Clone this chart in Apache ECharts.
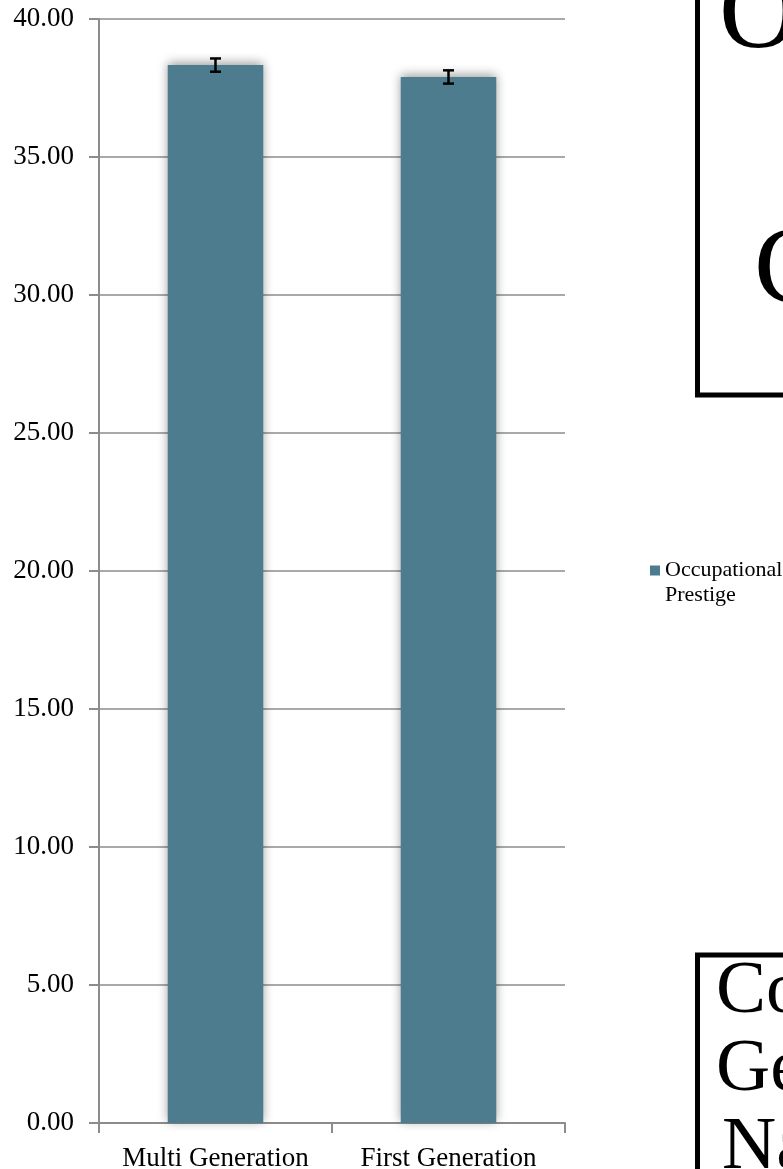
<!DOCTYPE html>
<html>
<head>
<meta charset="utf-8">
<script src="https://cdn.jsdelivr.net/npm/echarts@6/dist/echarts.min.js"></script>
<style>
  html, body { margin: 0; padding: 0; background: #fff; }
  #chart { width: 783px; height: 1169px; }
</style>
</head>
<body>
<div id="chart"></div>
<script>
var categories = ['Multi Generation', 'First Generation'];
var seriesName = 'Occupational Prestige';
var values = [38.33, 37.90];
var errors = [0.24, 0.24];
var yTicks = [0, 5, 10, 15, 20, 25, 30, 35, 40];

var serif = '"Liberation Serif", "DejaVu Serif", serif';
var chart = echarts.init(document.getElementById('chart'));

var errData = values.map(function (v, i) {
  return [i, v - errors[i], v + errors[i]];
});

chart.setOption({
  animation: false,
  grid: { left: 99, right: 218, top: 19, bottom: 46, outerBoundsMode: 'none', containLabel: false },
  legend: {
    data: [seriesName],
    left: 650,
    top: 533,
    padding: 0,
    icon: 'rect',
    itemWidth: 10,
    itemHeight: 10,
    // leading empty line keeps the square level with the first text line
    formatter: function () { return '\nOccupational\nPrestige'; },
    textStyle: {
      fontFamily: serif,
      fontSize: 22,
      color: '#000',
      lineHeight: 25
    }
  },
  xAxis: {
    type: 'category',
    data: categories,
    axisLine: { lineStyle: { color: '#8c8c8c', width: 2 } },
    axisTick: { show: true, interval: 0, length: 10, lineStyle: { color: '#8c8c8c', width: 2 } },
    axisLabel: { interval: 0, hideOverlap: false, fontFamily: serif, fontSize: 27, color: '#000', margin: 22 }
  },
  yAxis: {
    type: 'value',
    min: yTicks[0],
    max: yTicks[yTicks.length - 1],
    interval: 5,
    axisLine: { show: true, lineStyle: { color: '#8c8c8c', width: 2 } },
    axisTick: { show: true, length: 10, lineStyle: { color: '#8c8c8c', width: 2 } },
    splitLine: { lineStyle: { color: '#8c8c8c', width: 1.5 } },
    axisLabel: {
      fontFamily: serif, fontSize: 27, color: '#000', margin: 25,
      formatter: function (v) { return v.toFixed(2); }
    }
  },
  series: [
    {
      name: seriesName,
      type: 'bar',
      data: values,
      barWidth: '41%',
      itemStyle: {
        color: '#4e7c8f',
        shadowColor: 'rgba(0,0,0,0.4)',
        shadowBlur: 10,
        shadowOffsetY: -2
      }
    },
    {
      type: 'custom',
      name: 'err',
      data: errData,
      z: 5,
      renderItem: function (params, api) {
        var x = api.value(0);
        var lo = api.coord([x, api.value(1)]);
        var hi = api.coord([x, api.value(2)]);
        var hw = 5.5;
        var st = { stroke: '#000', lineWidth: 2.5, fill: 'none' };
        return {
          type: 'group',
          children: [
            { type: 'line', shape: { x1: lo[0], y1: lo[1], x2: hi[0], y2: hi[1] }, style: st },
            { type: 'line', shape: { x1: lo[0] - hw, y1: lo[1], x2: lo[0] + hw, y2: lo[1] }, style: st },
            { type: 'line', shape: { x1: hi[0] - hw, y1: hi[1], x2: hi[0] + hw, y2: hi[1] }, style: st }
          ]
        };
      }
    }
  ],
  graphic: [
    { type: 'rect', shape: { x: 697.5, y: -20, width: 200, height: 415 },
      style: { fill: 'none', stroke: '#000', lineWidth: 5 } },
    { type: 'text', x: 719, y: 18,
      style: { text: 'O', font: '110px ' + serif, fill: '#000', verticalAlign: 'middle' } },
    { type: 'text', x: 754, y: 273,
      style: { text: 'C', font: '110px ' + serif, fill: '#000', verticalAlign: 'middle' } },
    { type: 'rect', shape: { x: 697.5, y: 955, width: 200, height: 300 },
      style: { fill: 'none', stroke: '#000', lineWidth: 5 } },
    { type: 'text', x: 716, y: 992,
      style: { text: 'Co', font: '75px ' + serif, fill: '#000', verticalAlign: 'middle' } },
    { type: 'text', x: 716, y: 1070,
      style: { text: 'Ge', font: '75px ' + serif, fill: '#000', verticalAlign: 'middle' } },
    { type: 'text', x: 722, y: 1148,
      style: { text: 'Na', font: '75px ' + serif, fill: '#000', verticalAlign: 'middle' } }
  ]
});
</script>
</body>
</html>
